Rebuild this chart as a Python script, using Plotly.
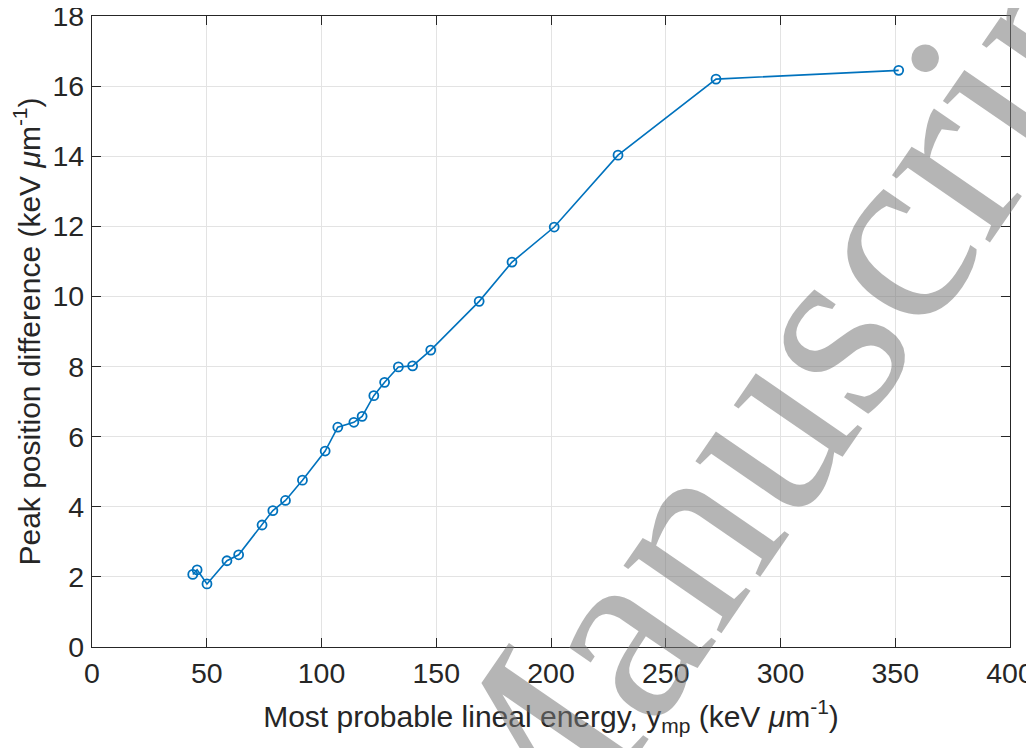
import plotly.graph_objects as go

# Most probable lineal energy y_mp (keV/um)
y_mp = [43.9, 45.8, 50.1, 58.8, 63.9, 74.1, 78.8, 84.3, 91.7, 101.6,
        107.1, 114.1, 117.7, 122.8, 127.5, 133.5, 139.7, 147.6, 168.7,
        183.0, 201.4, 229.2, 271.9, 351.5]
# Peak position difference (keV/um)
peak_diff = [2.07, 2.20, 1.80, 2.46, 2.63, 3.48, 3.89, 4.18, 4.76, 5.59,
             6.27, 6.41, 6.58, 7.17, 7.55, 7.99, 8.02, 8.47, 9.86,
             10.98, 11.98, 14.03, 16.20, 16.45]

x_ticks = [0, 50, 100, 150, 200, 250, 300, 350, 400]
y_ticks = [0, 2, 4, 6, 8, 10, 12, 14, 16, 18]

x_title = "Most probable lineal energy, y<sub>mp</sub> (keV <i>μ</i>m<sup>-1</sup>)"
y_title = "Peak position difference (keV <i>μ</i>m<sup>-1</sup>)"
watermark = "Manuscript"

AX = "#262626"
GRID = "#e3e3e3"
FONT = "Liberation Sans, Arial, sans-serif"

fig = go.Figure()
fig.add_trace(go.Scatter(
    x=y_mp, y=peak_diff, mode="lines+markers",
    line=dict(color="#0072BD", width=1.6),
    marker=dict(symbol="circle-open", size=9, color="#0072BD",
                line=dict(width=1.8, color="#0072BD")),
    showlegend=False,
))

axis_common = dict(
    showline=True, linecolor=AX, linewidth=1.2, mirror="ticks",
    ticks="inside", ticklen=9, tickwidth=1.2, tickcolor=AX,
    showgrid=True, gridcolor=GRID, gridwidth=1,
    zeroline=False, automargin=False, ticklabeloverflow="allow",
    tickfont=dict(family=FONT, size=28.5, color=AX),
)

fig.update_xaxes(range=[0, 400], tickvals=x_ticks,
                 ticktext=[str(v) for v in x_ticks],
                 title=dict(text=x_title, font=dict(family=FONT, size=30, color=AX),
                            standoff=17),
                 ticklabelstandoff=1, **axis_common)
fig.update_yaxes(range=[0, 18], tickvals=y_ticks,
                 ticktext=[str(v) for v in y_ticks],
                 title=dict(text=y_title, font=dict(family=FONT, size=30, color=AX),
                            standoff=5),
                 ticklabelstandoff=1, **axis_common)

fig.add_annotation(
    text=watermark, xref="paper", yref="paper", x=0.755, y=0.412,
    xanchor="center", yanchor="middle",
    showarrow=False, textangle=-55.5,
    font=dict(family="Liberation Serif, Times New Roman, serif", size=259,
              color="rgba(120,120,120,0.55)"),
)

# The page body adds an 8px offset, so the figure is 8px smaller on each side
fig.update_layout(
    width=1026, height=740,
    margin=dict(l=84, r=24, t=8, b=101, autoexpand=False),
    paper_bgcolor="white", plot_bgcolor="white",
    font=dict(family=FONT, color=AX),
)

fig.write_html("out.html")
